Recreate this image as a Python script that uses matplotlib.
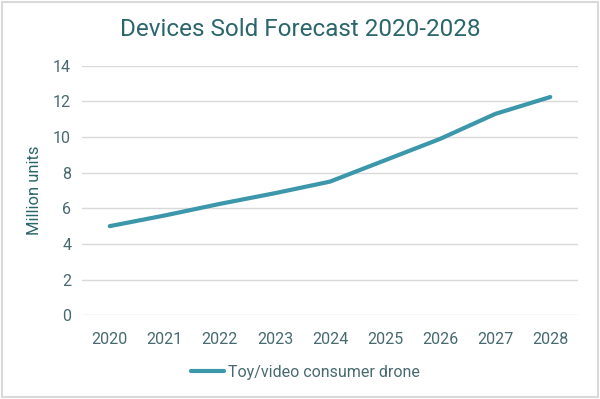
import matplotlib
matplotlib.use("Agg")
import matplotlib.pyplot as plt
from matplotlib.patches import Rectangle

years = ['2020', '2021', '2022', '2023', '2024', '2025', '2026', '2027', '2028']
drones = [5.0, 5.6, 6.25, 6.85, 7.5, 8.7, 9.9, 11.3, 12.25]
series_name = 'Toy/video consumer drone'

plt.rcParams['font.family'] = ['Roboto', 'DejaVu Sans']

line_col = '#3b97a9'
text_col = '#2a666b'
tick_col = '#466a70'

fig = plt.figure(figsize=(6, 3.99), dpi=100)
ax = fig.add_axes([0.137, 0.21, 0.826, 0.625])

x = range(len(years))
ax.plot(x, drones, color=line_col, linewidth=3, solid_capstyle='round',
        label=series_name)

ax.set_xlim(-0.5, len(years) - 0.5)
ax.set_ylim(0, 14)
ax.set_yticks(range(0, 15, 2))
ax.set_xticks(list(x))
ax.set_xticklabels(years)
ax.grid(axis='y', color='#d9d9d9', linewidth=1)
ax.set_axisbelow(True)
for s in ax.spines.values():
    s.set_visible(False)
ax.tick_params(length=0, labelsize=11.5, colors=tick_col, pad=8)
ax.tick_params(axis='x', pad=12)

ax.set_ylabel('Million units', fontsize=12, color=text_col, labelpad=8)
fig.text(0.5, 0.925, 'Devices Sold Forecast 2020-2028', ha='center',
         va='center', fontsize=17.5, color=text_col)

leg = ax.legend(loc='center', bbox_to_anchor=(0.45, -0.23), frameon=False,
                fontsize=11.5, handlelength=2.1, handletextpad=0.2)
for t in leg.get_texts():
    t.set_color(tick_col)

fig.patches.append(Rectangle((0.003, 0.004), 0.994, 0.992, transform=fig.transFigure,
                             fill=False, edgecolor='#d9d9d9', linewidth=1.5))

fig.savefig('out.png', dpi=100, facecolor='white')
